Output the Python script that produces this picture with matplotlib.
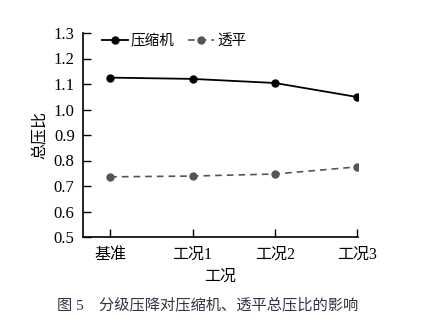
import matplotlib
matplotlib.use('Agg')
import matplotlib.pyplot as plt

plt.rcParams['font.family'] = ['Liberation Serif', 'Noto Sans CJK SC']

# 数据
cases = ['基准', '工况1', '工况2', '工况3']
compressor = [1.125, 1.120, 1.104, 1.049]
turbine = [0.736, 0.739, 0.747, 0.775]
yticks = [0.5, 0.6, 0.7, 0.8, 0.9, 1.0, 1.1, 1.2, 1.3]

fig = plt.figure(figsize=(4.23, 3.32), dpi=100)
ax = fig.add_axes([83 / 423, 1 - 237 / 332, (358 - 83) / 423, (237 - 33) / 332])

x = list(range(len(cases)))
ax.plot(x, compressor, '-o', color='black', lw=1.3, ms=5, label='压缩机')
ax.plot(x, turbine, '--o', color='#555555', lw=1.2, ms=5, label='透平',
        dashes=(4, 3))

ax.set_xlim(-0.33, 3.01)
ax.set_ylim(0.5, 1.3)
ax.set_xticks(x)
ax.set_xticklabels(cases, fontsize=11.5)
ax.set_yticks(yticks)
ax.set_yticklabels(['%.1f' % v for v in yticks], fontsize=12)
ax.tick_params(direction='in', length=6, width=1)
ax.tick_params(axis='x', pad=7)
ax.tick_params(axis='y', pad=6)
ax.spines['top'].set_visible(False)
ax.spines['right'].set_visible(False)
for s in ['left', 'bottom']:
    ax.spines[s].set_linewidth(1.2)

ax.set_xlabel('工况', fontsize=11.5, labelpad=4)
ax.set_ylabel('总压比', fontsize=11.5, labelpad=4)

ax.legend(loc='upper left', ncol=2, frameon=False, fontsize=10.5,
          handlelength=1.8, columnspacing=0.9, handletextpad=0.2,
          bbox_to_anchor=(0.02, 1.06))

fig.text(208 / 423, 1 - 305 / 332, '图 5　分级压降对压缩机、透平总压比的影响',
         ha='center', va='center', fontsize=11, color='#333344')

fig.savefig('out.png', dpi=100)
